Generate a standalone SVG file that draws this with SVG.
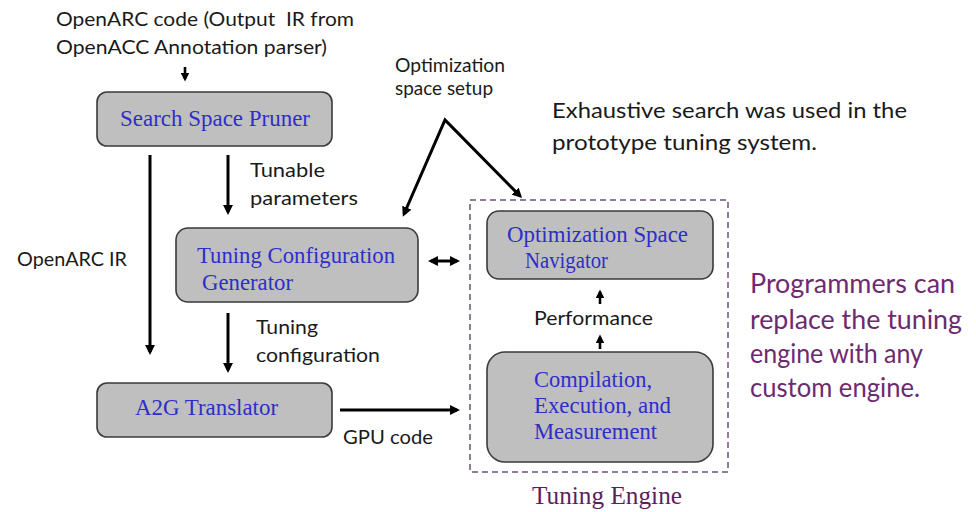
<svg xmlns="http://www.w3.org/2000/svg" width="976" height="512" viewBox="0 0 976 512">
<style>
.box{fill:#bfbfbf;stroke:#3a3a3a;stroke-width:1.6}
.nt{font-family:"Liberation Serif","Times New Roman",serif;font-size:23px;fill:#2e2ec8}
.lb{font-family:Lato,"Open Sans",sans-serif;font-size:20px;fill:#1a1a1a}
.big{font-family:Lato,"Open Sans",sans-serif;font-size:22px;fill:#1a1a1a}
.pur{font-family:Lato,"Open Sans",sans-serif;font-size:27px;fill:#6e2a70}
.te{font-family:"Liberation Serif","Times New Roman",serif;font-size:26px;fill:#5c1f5e}
.ar{fill:none;stroke:#000;stroke-width:3}
.ars{fill:none;stroke:#000;stroke-width:2.6}
</style>
<defs>
<marker id="ah" viewBox="0 0 10 10" refX="7" refY="5" markerWidth="3.3" markerHeight="3.3" markerUnits="strokeWidth" orient="auto-start-reverse">
<path d="M0,0 L10,5 L0,10 z" fill="#000"/>
</marker>
</defs>
<rect width="976" height="512" fill="#fff"/>

<g id="top-label">
<text class="lb" x="56" y="26" textLength="298" lengthAdjust="spacingAndGlyphs" xml:space="preserve">OpenARC code (Output  IR from</text>
<text class="lb" x="56" y="54" textLength="271" lengthAdjust="spacingAndGlyphs">OpenACC Annotation parser)</text>
</g>

<g id="search-space-pruner">
<rect class="box" x="97" y="92" width="235" height="54" rx="10"/>
<text class="nt" x="120" y="126" textLength="190" lengthAdjust="spacingAndGlyphs">Search Space Pruner</text>
</g>

<g id="tuning-configuration-generator">
<rect class="box" x="176" y="228" width="242" height="74" rx="12"/>
<text class="nt" x="197" y="263" textLength="198" lengthAdjust="spacingAndGlyphs">Tuning Configuration</text>
<text class="nt" x="202" y="290" textLength="91" lengthAdjust="spacingAndGlyphs">Generator</text>
</g>

<g id="a2g-translator">
<rect class="box" x="97" y="383" width="235" height="54" rx="10"/>
<text class="nt" x="135" y="415" textLength="143" lengthAdjust="spacingAndGlyphs">A2G Translator</text>
</g>

<g id="tuning-engine">
<rect x="470" y="200" width="258" height="272" fill="none" stroke="#8f7f95" stroke-width="2" stroke-dasharray="6 4"/>
<text class="te" x="532" y="504" textLength="150" lengthAdjust="spacingAndGlyphs">Tuning Engine</text>
</g>

<g id="optimization-space-navigator">
<rect class="box" x="487" y="211" width="226" height="68" rx="12"/>
<text class="nt" x="507" y="242" textLength="181" lengthAdjust="spacingAndGlyphs">Optimization Space</text>
<text class="nt" x="525" y="268" textLength="83" lengthAdjust="spacingAndGlyphs">Navigator</text>
</g>

<g id="compilation-execution-measurement">
<rect class="box" x="487" y="352" width="226" height="110" rx="18"/>
<text class="nt" x="534" y="387" textLength="118" lengthAdjust="spacingAndGlyphs">Compilation,</text>
<text class="nt" x="534" y="413" textLength="137" lengthAdjust="spacingAndGlyphs">Execution, and</text>
<text class="nt" x="534" y="439" textLength="123" lengthAdjust="spacingAndGlyphs">Measurement</text>
</g>

<g id="notes">
<text class="big" x="552" y="118" textLength="355" lengthAdjust="spacingAndGlyphs">Exhaustive search was used in the</text>
<text class="big" x="552" y="150" textLength="265" lengthAdjust="spacingAndGlyphs">prototype tuning system.</text>
<text class="pur" x="750" y="293" textLength="205" lengthAdjust="spacingAndGlyphs">Programmers can</text>
<text class="pur" x="750" y="329" textLength="212" lengthAdjust="spacingAndGlyphs">replace the tuning</text>
<text class="pur" x="750" y="363" textLength="173" lengthAdjust="spacingAndGlyphs">engine with any</text>
<text class="pur" x="750" y="397" textLength="170" lengthAdjust="spacingAndGlyphs">custom engine.</text>
</g>

<g id="connectors">
<line class="ars" x1="185" y1="67" x2="185" y2="79" marker-end="url(#ah)"/>
<line class="ar" x1="150" y1="155" x2="150" y2="352" marker-end="url(#ah)"/>
<line class="ar" x1="228" y1="155" x2="228" y2="212" marker-end="url(#ah)"/>
<line class="ar" x1="228" y1="313" x2="228" y2="370" marker-end="url(#ah)"/>
<polyline class="ar" points="404,214 445,120 520,196" marker-start="url(#ah)" marker-end="url(#ah)"/>
<line class="ar" x1="431" y1="261" x2="457" y2="261" marker-start="url(#ah)" marker-end="url(#ah)"/>
<line class="ar" x1="340" y1="410" x2="457" y2="410" marker-end="url(#ah)"/>
<line class="ars" x1="600" y1="304" x2="600" y2="292" marker-end="url(#ah)"/>
<line class="ars" x1="600" y1="349" x2="600" y2="337" marker-end="url(#ah)"/>
<text class="lb" x="395" y="72" textLength="110" lengthAdjust="spacingAndGlyphs">Optimization</text>
<text class="lb" x="395" y="95" textLength="98" lengthAdjust="spacingAndGlyphs">space setup</text>
<text class="lb" x="250" y="177" textLength="75" lengthAdjust="spacingAndGlyphs">Tunable</text>
<text class="lb" x="250" y="205" textLength="108" lengthAdjust="spacingAndGlyphs">parameters</text>
<text class="lb" x="17" y="266" textLength="110" lengthAdjust="spacingAndGlyphs">OpenARC IR</text>
<text class="lb" x="256" y="334" textLength="62" lengthAdjust="spacingAndGlyphs">Tuning</text>
<text class="lb" x="256" y="362" textLength="124" lengthAdjust="spacingAndGlyphs">configuration</text>
<text class="lb" x="343" y="444" textLength="90" lengthAdjust="spacingAndGlyphs">GPU code</text>
<text class="lb" x="534" y="325" textLength="119" lengthAdjust="spacingAndGlyphs">Performance</text>
</g>
</svg>
